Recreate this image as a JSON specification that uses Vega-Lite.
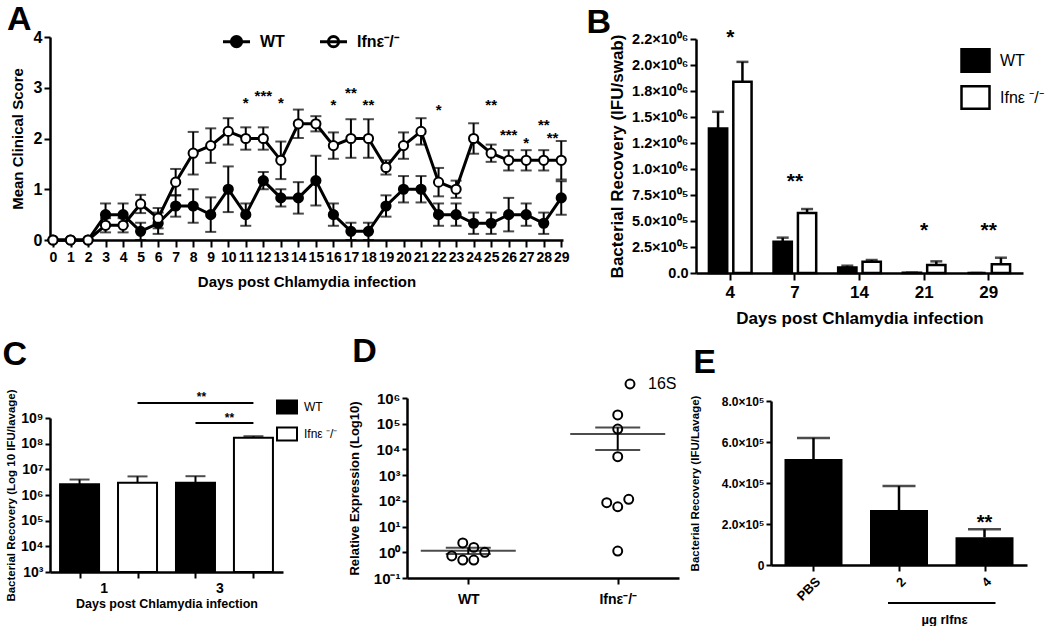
{
  "$schema": "https://vega.github.io/schema/vega-lite/v6.json",
  "background": "white",
  "padding": {"left": 2, "top": 3, "right": 2, "bottom": 0},
  "config": {
    "font": "Liberation Sans",
    "view": {"stroke": null},
    "axis": {"domainColor": "black", "tickColor": "black", "labelColor": "black", "titleColor": "black", "domainWidth": 2.5, "tickWidth": 2, "tickSize": 6, "grid": false, "labelFontWeight": "bold", "titleFontWeight": "bold", "labelFont": "Liberation Sans", "titleFont": "Liberation Sans"},
    "legend": {"labelColor": "black", "labelFont": "Liberation Sans"},
    "title": {"fontSize": 34, "fontWeight": "bold", "anchor": "start", "frame": "bounds", "color": "black", "offset": 2},
    "text": {"color": "black"}
  },
  "resolve": {"scale": {"fill": "independent", "stroke": "independent"}, "legend": {"fill": "independent", "stroke": "independent"}},
  "datasets": {
    "scores": [
      {"day": 0, "genotype": "WT", "mean": 0, "sem": 0},
      {"day": 1, "genotype": "WT", "mean": 0, "sem": 0},
      {"day": 2, "genotype": "WT", "mean": 0, "sem": 0},
      {"day": 3, "genotype": "WT", "mean": 0.5, "sem": 0.22},
      {"day": 4, "genotype": "WT", "mean": 0.5, "sem": 0.22},
      {"day": 5, "genotype": "WT", "mean": 0.17, "sem": 0.17},
      {"day": 6, "genotype": "WT", "mean": 0.33, "sem": 0.21},
      {"day": 7, "genotype": "WT", "mean": 0.67, "sem": 0.21},
      {"day": 8, "genotype": "WT", "mean": 0.67, "sem": 0.33},
      {"day": 9, "genotype": "WT", "mean": 0.5, "sem": 0.34},
      {"day": 10, "genotype": "WT", "mean": 1.0, "sem": 0.45},
      {"day": 11, "genotype": "WT", "mean": 0.5, "sem": 0.22},
      {"day": 12, "genotype": "WT", "mean": 1.17, "sem": 0.17},
      {"day": 13, "genotype": "WT", "mean": 0.83, "sem": 0.17},
      {"day": 14, "genotype": "WT", "mean": 0.83, "sem": 0.31},
      {"day": 15, "genotype": "WT", "mean": 1.17, "sem": 0.49},
      {"day": 16, "genotype": "WT", "mean": 0.5, "sem": 0.22},
      {"day": 17, "genotype": "WT", "mean": 0.17, "sem": 0.17},
      {"day": 18, "genotype": "WT", "mean": 0.17, "sem": 0.17},
      {"day": 19, "genotype": "WT", "mean": 0.67, "sem": 0.21},
      {"day": 20, "genotype": "WT", "mean": 1.0, "sem": 0.26},
      {"day": 21, "genotype": "WT", "mean": 1.0, "sem": 0.26},
      {"day": 22, "genotype": "WT", "mean": 0.5, "sem": 0.22},
      {"day": 23, "genotype": "WT", "mean": 0.5, "sem": 0.22},
      {"day": 24, "genotype": "WT", "mean": 0.33, "sem": 0.21},
      {"day": 25, "genotype": "WT", "mean": 0.33, "sem": 0.21},
      {"day": 26, "genotype": "WT", "mean": 0.5, "sem": 0.33},
      {"day": 27, "genotype": "WT", "mean": 0.5, "sem": 0.22},
      {"day": 28, "genotype": "WT", "mean": 0.33, "sem": 0.21},
      {"day": 29, "genotype": "WT", "mean": 0.83, "sem": 0.33},
      {"day": 0, "genotype": "Ifnε⁻/⁻", "mean": 0, "sem": 0},
      {"day": 1, "genotype": "Ifnε⁻/⁻", "mean": 0, "sem": 0},
      {"day": 2, "genotype": "Ifnε⁻/⁻", "mean": 0, "sem": 0},
      {"day": 3, "genotype": "Ifnε⁻/⁻", "mean": 0.29, "sem": 0.14},
      {"day": 4, "genotype": "Ifnε⁻/⁻", "mean": 0.29, "sem": 0.14},
      {"day": 5, "genotype": "Ifnε⁻/⁻", "mean": 0.71, "sem": 0.18},
      {"day": 6, "genotype": "Ifnε⁻/⁻", "mean": 0.43, "sem": 0.2},
      {"day": 7, "genotype": "Ifnε⁻/⁻", "mean": 1.14, "sem": 0.26},
      {"day": 8, "genotype": "Ifnε⁻/⁻", "mean": 1.71, "sem": 0.42},
      {"day": 9, "genotype": "Ifnε⁻/⁻", "mean": 1.86, "sem": 0.34},
      {"day": 10, "genotype": "Ifnε⁻/⁻", "mean": 2.14, "sem": 0.26},
      {"day": 11, "genotype": "Ifnε⁻/⁻", "mean": 2.0, "sem": 0.22},
      {"day": 12, "genotype": "Ifnε⁻/⁻", "mean": 2.0, "sem": 0.22},
      {"day": 13, "genotype": "Ifnε⁻/⁻", "mean": 1.57, "sem": 0.37},
      {"day": 14, "genotype": "Ifnε⁻/⁻", "mean": 2.29, "sem": 0.28},
      {"day": 15, "genotype": "Ifnε⁻/⁻", "mean": 2.29, "sem": 0.15},
      {"day": 16, "genotype": "Ifnε⁻/⁻", "mean": 1.86, "sem": 0.26},
      {"day": 17, "genotype": "Ifnε⁻/⁻", "mean": 2.0, "sem": 0.38},
      {"day": 18, "genotype": "Ifnε⁻/⁻", "mean": 2.0, "sem": 0.38},
      {"day": 19, "genotype": "Ifnε⁻/⁻", "mean": 1.43, "sem": 0.14},
      {"day": 20, "genotype": "Ifnε⁻/⁻", "mean": 1.86, "sem": 0.26},
      {"day": 21, "genotype": "Ifnε⁻/⁻", "mean": 2.14, "sem": 0.26},
      {"day": 22, "genotype": "Ifnε⁻/⁻", "mean": 1.14, "sem": 0.28},
      {"day": 23, "genotype": "Ifnε⁻/⁻", "mean": 1.0, "sem": 0.17},
      {"day": 24, "genotype": "Ifnε⁻/⁻", "mean": 2.0, "sem": 0.3},
      {"day": 25, "genotype": "Ifnε⁻/⁻", "mean": 1.71, "sem": 0.17},
      {"day": 26, "genotype": "Ifnε⁻/⁻", "mean": 1.57, "sem": 0.2},
      {"day": 27, "genotype": "Ifnε⁻/⁻", "mean": 1.57, "sem": 0.2},
      {"day": 28, "genotype": "Ifnε⁻/⁻", "mean": 1.57, "sem": 0.2},
      {"day": 29, "genotype": "Ifnε⁻/⁻", "mean": 1.57, "sem": 0.38}
    ],
    "scoreStars": [
      {"day": 11, "y": 2.78, "label": "*"},
      {"day": 12, "y": 2.92, "label": "***"},
      {"day": 13, "y": 2.78, "label": "*"},
      {"day": 16, "y": 2.74, "label": "*"},
      {"day": 17, "y": 2.97, "label": "**"},
      {"day": 18, "y": 2.74, "label": "**"},
      {"day": 22, "y": 2.65, "label": "*"},
      {"day": 25, "y": 2.74, "label": "**"},
      {"day": 26, "y": 2.15, "label": "***"},
      {"day": 27, "y": 1.99, "label": "*"},
      {"day": 28, "y": 2.35, "label": "**"},
      {"day": 28.5, "y": 2.09, "label": "**"}
    ],
    "bData": [
      {"day": "4", "genotype": "WT", "mean": 1390000, "top": 1550000},
      {"day": "4", "genotype": "Ifnε ⁻/⁻", "mean": 1840000, "top": 2030000},
      {"day": "7", "genotype": "WT", "mean": 300000, "top": 340000},
      {"day": "7", "genotype": "Ifnε ⁻/⁻", "mean": 577000, "top": 615000},
      {"day": "14", "genotype": "WT", "mean": 54000, "top": 70000},
      {"day": "14", "genotype": "Ifnε ⁻/⁻", "mean": 109000, "top": 125000},
      {"day": "21", "genotype": "WT", "mean": 3000, "top": 3000},
      {"day": "21", "genotype": "Ifnε ⁻/⁻", "mean": 77000, "top": 112000},
      {"day": "29", "genotype": "WT", "mean": 0, "top": 0},
      {"day": "29", "genotype": "Ifnε ⁻/⁻", "mean": 83000, "top": 147000}
    ],
    "bStars": [
      {"day": "4", "y": 2310000, "label": "*"},
      {"day": "7", "y": 920000, "label": "**"},
      {"day": "21", "y": 455000, "label": "*"},
      {"day": "29", "y": 455000, "label": "**"}
    ],
    "cData": [
      {"cond": "1 WT", "genotype": "WT", "mean": 2600000, "top": 4000000},
      {"cond": "1 Ifn", "genotype": "Ifnε ⁻/⁻", "mean": 3000000, "top": 5300000},
      {"cond": "3 WT", "genotype": "WT", "mean": 3000000, "top": 5400000},
      {"cond": "3 Ifn", "genotype": "Ifnε ⁻/⁻", "mean": 170000000, "top": 195000000}
    ],
    "cSig": [
      {"pair": "a", "cond": "1 Ifn", "y": 3800000000},
      {"pair": "a", "cond": "3 Ifn", "y": 3800000000},
      {"pair": "b", "cond": "3 WT", "y": 640000000},
      {"pair": "b", "cond": "3 Ifn", "y": 640000000}
    ],
    "cStars": [
      {"pair": "a", "cond": "3 WT", "y": 8600000000, "label": "**"},
      {"pair": "b", "cond": "3 Ifn", "y": 1300000000, "label": "**"}
    ],
    "dPoints": [
      {"genotype": "WT", "col": -1.5, "value": 0.72},
      {"genotype": "WT", "col": -0.5, "value": 2.3},
      {"genotype": "WT", "col": -0.5, "value": 0.5},
      {"genotype": "WT", "col": 0.5, "value": 1.55},
      {"genotype": "WT", "col": 0.5, "value": 0.5},
      {"genotype": "WT", "col": 1.5, "value": 1.0},
      {"genotype": "Ifnε⁻/⁻", "col": 0, "value": 220000},
      {"genotype": "Ifnε⁻/⁻", "col": 0, "value": 62000},
      {"genotype": "Ifnε⁻/⁻", "col": 0, "value": 5200},
      {"genotype": "Ifnε⁻/⁻", "col": -1, "value": 85},
      {"genotype": "Ifnε⁻/⁻", "col": 0, "value": 59},
      {"genotype": "Ifnε⁻/⁻", "col": 1, "value": 115},
      {"genotype": "Ifnε⁻/⁻", "col": 0, "value": 1.12}
    ],
    "dSummary": [
      {"genotype": "WT", "mean": 1.15, "lo": 0.85, "hi": 1.5},
      {"genotype": "Ifnε⁻/⁻", "mean": 40000, "lo": 9600, "hi": 72000}
    ],
    "eData": [
      {"treatment": "PBS", "mean": 517000, "top": 620000},
      {"treatment": "2", "mean": 268000, "top": 385000},
      {"treatment": "4", "mean": 135000, "top": 174000}
    ],
    "eStars": [
      {"treatment": "4", "y": 228000, "label": "**"}
    ],
    "eLine": [
      {"treatment": "2", "end": -1, "y": -185000},
      {"treatment": "4", "end": 1, "y": -185000}
    ]
  },
  "vconcat": [
    {
      "spacing": 16,
      "resolve": {"scale": {"fill": "independent", "stroke": "independent"}, "legend": {"fill": "independent", "stroke": "independent"}},
      "hconcat": [
        {
          "width": 513,
          "height": 203,
          "title": {"text": "A", "dx": -3, "offset": -11},
          "data": {"name": "scores"},
          "resolve": {"axis": {"y": "independent"}},
          "encoding": {
            "x": {"field": "day", "type": "quantitative", "scale": {"domain": [-0.17, 29.1], "nice": false, "zero": false},
              "axis": {"values": [0,1,2,3,4,5,6,7,8,9,10,11,12,13,14,15,16,17,18,19,20,21,22,23,24,25,26,27,28,29], "labelFontSize": 14, "labelOverlap": false, "labelFlush": false, "tickSize": 7, "labelPadding": 3, "title": "Days post Chlamydia infection", "titleFontSize": 15, "titlePadding": 10}}
          },
          "layer": [
            {"mark": {"type": "errorbar", "thickness": 2, "color": "black", "ticks": {"size": 11, "thickness": 2, "color": "black"}},
             "encoding": {"y": {"field": "mean", "type": "quantitative", "scale": {"domain": [0, 4]}, "axis": null}, "yError": {"field": "sem"}}},
            {"mark": {"type": "line", "strokeWidth": 3, "color": "black"},
             "encoding": {"y": {"field": "mean", "type": "quantitative", "axis": null}, "detail": {"field": "genotype"}}},
            {"mark": {"type": "point", "filled": true, "size": 85, "stroke": "black", "strokeWidth": 2, "opacity": 1},
             "encoding": {
               "y": {"field": "mean", "type": "quantitative",
                 "axis": {"values": [0, 1, 2, 3, 4], "labelFontSize": 16, "tickSize": 6, "title": "Mean Clinical Score", "titleFontSize": 15, "titlePadding": 8}},
               "fill": {"field": "genotype", "type": "nominal", "sort": ["WT", "Ifnε⁻/⁻"],
               "scale": {"domain": ["WT", "Ifnε⁻/⁻"], "range": ["black", "white"]},
               "legend": {"title": null, "orient": "none", "legendX": 171, "legendY": -11, "direction": "horizontal",
                 "symbolType": "M-1,0H1M-0.38,0A0.38,0.38,0,1,1,0.38,0A0.38,0.38,0,1,1,-0.38,0",
                 "symbolSize": 730, "symbolStrokeColor": "black", "symbolStrokeWidth": 3,
                 "labelFontSize": 16, "labelFontWeight": "bold", "columnPadding": 28, "labelOffset": 8}}}},
            {"data": {"name": "scoreStars"},
             "mark": {"type": "text", "fontSize": 15, "fontWeight": "bold", "baseline": "middle", "dy": 4},
             "encoding": {"y": {"field": "y", "type": "quantitative", "axis": null}, "text": {"field": "label"}}}
          ]
        },
        {
          "width": 327,
          "height": 236,
          "title": {"text": "B", "dx": -22, "offset": -13},
          "resolve": {"axis": {"y": "independent"}},
          "encoding": {
            "x": {"field": "day", "type": "nominal", "sort": ["4", "7", "14", "21", "29"],
              "scale": {"type": "band", "paddingInner": 0.34, "paddingOuter": 0.2},
              "axis": {"labelAngle": 0, "labelFontSize": 17, "tickSize": 7, "labelPadding": 4, "title": "Days post Chlamydia infection", "titleFontSize": 17, "titlePadding": 10}}
          },
          "layer": [
            {"data": {"name": "bData"},
             "mark": {"type": "bar", "stroke": "black", "strokeWidth": 2.5},
             "encoding": {
               "xOffset": {"field": "genotype", "sort": ["WT", "Ifnε ⁻/⁻"], "scale": {"paddingInner": 0.25}},
               "y": {"field": "mean", "type": "quantitative", "scale": {"domain": [0, 2250000], "range": [236, 2], "nice": false},
                 "axis": {"values": [0, 250000, 500000, 750000, 1000000, 1250000, 1500000, 1750000, 2000000, 2250000],
                   "labelExpr": "['0.0','2.5×10⁰⁵','5.0×10⁰⁵','7.5×10⁰⁵','1.0×10⁰⁶','1.2×10⁰⁶','1.5×10⁰⁶','1.8×10⁰⁶','2.0×10⁰⁶','2.2×10⁰⁶'][round(datum.value/250000)]",
                   "labelFontSize": 14.5, "tickSize": 6, "labelPadding": 2, "title": "Bacterial Recovery (IFU/swab)", "titleFontSize": 17, "titlePadding": 5}},
               "fill": {"field": "genotype", "type": "nominal", "sort": ["WT", "Ifnε ⁻/⁻"],
                 "scale": {"domain": ["WT", "Ifnε ⁻/⁻"], "range": ["black", "white"]},
                 "legend": {"title": null, "orient": "none", "legendX": 264, "legendY": 8,
                   "symbolType": "M-1,-0.8H1V0.8H-1Z", "symbolSize": 784, "symbolStrokeColor": "black", "symbolStrokeWidth": 2.5,
                   "labelFontSize": 16, "labelFontWeight": "normal", "rowPadding": 4, "labelOffset": 9}}
             }},
            {"data": {"name": "bData"},
             "mark": {"type": "rule", "strokeWidth": 2.5, "color": "black"},
             "encoding": {
               "xOffset": {"field": "genotype", "sort": ["WT", "Ifnε ⁻/⁻"], "scale": {"paddingInner": 0.25}},
               "y": {"field": "mean", "type": "quantitative", "axis": null}, "y2": {"field": "top"}}},
            {"data": {"name": "bData"},
             "mark": {"type": "tick", "orient": "horizontal", "size": 12, "thickness": 2.5, "color": "black"},
             "encoding": {
               "xOffset": {"field": "genotype", "sort": ["WT", "Ifnε ⁻/⁻"], "scale": {"paddingInner": 0.25}},
               "y": {"field": "top", "type": "quantitative", "axis": null}}},
            {"data": {"name": "bStars"},
             "mark": {"type": "text", "fontSize": 21, "fontWeight": "bold", "baseline": "middle", "dy": 5},
             "encoding": {"y": {"field": "y", "type": "quantitative", "axis": null}, "text": {"field": "label"}}}
          ]
        }
      ]
    },
    {
      "spacing": 10,
      "resolve": {"scale": {"fill": "independent", "stroke": "independent"}, "legend": {"fill": "independent", "stroke": "independent"}},
      "hconcat": [
        {
          "width": 233,
          "height": 174,
          "title": {"text": "C", "dx": -3, "offset": 17},
          "resolve": {"axis": {"y": "independent"}},
          "encoding": {
            "x": {"field": "cond", "type": "nominal", "sort": ["1 WT", "1 Ifn", "3 WT", "3 Ifn"],
              "scale": {"type": "point", "domain": ["1 WT", "1 Ifn", "3 WT", "3 Ifn"], "padding": 0.51},
              "axis": {"labelAngle": 0, "labelExpr": "datum.value == '1 WT' ? '1' : datum.value == '3 WT' ? '3' : ''", "labelOffset": 24, "labelFontSize": 14, "tickSize": 6, "labelPadding": 3, "title": "Days post Chlamydia infection", "titleFontSize": 12.5, "titlePadding": 2}}
          },
          "layer": [
            {"data": {"name": "cData"},
             "mark": {"type": "rule", "strokeWidth": 2, "color": "black"},
             "encoding": {"y": {"field": "mean", "type": "quantitative", "scale": {"type": "log", "domain": [1000, 1000000000], "range": [174, 20], "nice": false}, "axis": null}, "y2": {"field": "top"}}},
            {"data": {"name": "cData"},
             "mark": {"type": "tick", "orient": "horizontal", "size": 20, "thickness": 2, "color": "black"},
             "encoding": {"y": {"field": "top", "type": "quantitative", "axis": null}}},
            {"data": {"name": "cData"},
             "mark": {"type": "bar", "stroke": "black", "strokeWidth": 2, "width": 39},
             "encoding": {
               "y": {"field": "mean", "type": "quantitative",
                 "axis": {"values": [1000, 10000, 100000, 1000000, 10000000, 100000000, 1000000000],
                   "labelExpr": "'10' + ['³','⁴','⁵','⁶','⁷','⁸','⁹'][round(log(datum.value)/LN10)-3]",
                   "labelFontSize": 14, "tickSize": 5, "title": "Bacterial Recovery (Log 10 IFU/lavage)", "titleFontSize": 11.5, "titlePadding": 4}},
               "y2": {"datum": 1000},
               "fill": {"field": "genotype", "type": "nominal", "sort": ["WT", "Ifnε ⁻/⁻"],
                 "scale": {"domain": ["WT", "Ifnε ⁻/⁻"], "range": ["black", "white"]},
                 "legend": {"title": null, "orient": "none", "legendX": 226, "legendY": -2,
                   "symbolType": "M-1,-0.65H1V0.65H-1Z", "symbolSize": 400, "symbolStrokeColor": "black", "symbolStrokeWidth": 2,
                   "labelFontSize": 12, "labelFontWeight": "normal", "rowPadding": 5, "labelOffset": 6}}
             }},
            {"data": {"name": "cSig"},
             "mark": {"type": "line", "strokeWidth": 2, "color": "black"},
             "encoding": {"y": {"field": "y", "type": "quantitative", "axis": null}, "detail": {"field": "pair"}}},
            {"data": {"name": "cStars"},
             "transform": [{"filter": "datum.pair == 'a'"}],
             "mark": {"type": "text", "fontSize": 12, "fontWeight": "bold", "baseline": "middle", "dy": 3, "dx": 6},
             "encoding": {"y": {"field": "y", "type": "quantitative", "axis": null}, "text": {"field": "label"}}},
            {"data": {"name": "cStars"},
             "transform": [{"filter": "datum.pair == 'b'"}],
             "mark": {"type": "text", "fontSize": 12, "fontWeight": "bold", "baseline": "middle", "dy": 3, "dx": -24},
             "encoding": {"y": {"field": "y", "type": "quantitative", "axis": null}, "text": {"field": "label"}}}
          ]
        },
        {
          "width": 272,
          "height": 180,
          "title": {"text": "D", "dx": 4, "offset": 7},
          "resolve": {"axis": {"y": "independent"}},
          "encoding": {
            "x": {"field": "genotype", "type": "nominal", "sort": ["WT", "Ifnε⁻/⁻"],
              "scale": {"type": "point", "domain": ["WT", "Ifnε⁻/⁻"], "padding": 0.41},
              "axis": {"labelAngle": 0, "labelFontSize": 14, "tickSize": 6, "labelPadding": 8, "title": null}}
          },
          "layer": [
            {"data": {"name": "dSummary"},
             "mark": {"type": "rule", "strokeWidth": 2, "color": "black"},
             "encoding": {"y": {"field": "lo", "type": "quantitative",
               "scale": {"type": "log", "domain": [0.1, 1000000], "nice": false},
               "axis": {"values": [0.1, 1, 10, 100, 1000, 10000, 100000, 1000000],
                 "labelExpr": "'10' + ['⁻¹','⁰','¹','²','³','⁴','⁵','⁶'][round(log(datum.value)/LN10)+1]",
                 "labelFontSize": 15, "tickSize": 5, "title": "Relative Expression (Log10)", "titleFontSize": 13, "titlePadding": 12}},
               "y2": {"field": "hi"}}},
            {"data": {"name": "dSummary"},
             "mark": {"type": "tick", "orient": "horizontal", "size": 45, "thickness": 2, "color": "black"},
             "encoding": {"y": {"field": "lo", "type": "quantitative", "axis": null}}},
            {"data": {"name": "dSummary"},
             "mark": {"type": "tick", "orient": "horizontal", "size": 45, "thickness": 2, "color": "black"},
             "encoding": {"y": {"field": "hi", "type": "quantitative", "axis": null}}},
            {"data": {"name": "dSummary"},
             "mark": {"type": "tick", "orient": "horizontal", "size": 95, "thickness": 2, "color": "black"},
             "encoding": {"y": {"field": "mean", "type": "quantitative", "axis": null}}},
            {"data": {"name": "dPoints"},
             "mark": {"type": "point", "filled": false, "size": 80, "strokeWidth": 2, "opacity": 1, "fill": "white", "fillOpacity": 0},
             "encoding": {
               "xOffset": {"field": "col", "type": "quantitative", "scale": {"domain": [-3.3, 3.3], "range": [-36.3, 36.3]}},
               "y": {"field": "value", "type": "quantitative", "axis": null},
               "stroke": {"datum": "16S", "type": "nominal", "scale": {"range": ["black"]},
                 "legend": {"title": null, "orient": "none", "legendX": 215, "legendY": -22, "symbolType": "circle", "symbolSize": 80, "symbolStrokeWidth": 2, "labelFontSize": 16, "labelFontWeight": "normal", "labelOffset": 10}}}}
          ]
        },
        {
          "width": 256,
          "height": 167,
          "title": {"text": "E", "dx": 4, "offset": 15},
          "resolve": {"axis": {"y": "independent"}},
          "encoding": {
            "x": {"field": "treatment", "type": "nominal", "sort": ["PBS", "2", "4"],
              "scale": {"type": "point", "domain": ["PBS", "2", "4"], "padding": 0.497},
              "axis": {"labelAngle": -45, "labelFontSize": 13, "tickSize": 6, "labelPadding": 4, "title": "µg rIfnε", "titleFontSize": 13, "titleX": 173, "titleY": 48}}
          },
          "layer": [
            {"data": {"name": "eData"},
             "mark": {"type": "bar", "color": "black", "width": 58},
             "encoding": {"y": {"field": "mean", "type": "quantitative",
               "scale": {"domain": [0, 800000], "range": [167, 3], "nice": false},
               "axis": {"values": [0, 200000, 400000, 600000, 800000],
                 "labelExpr": "datum.value == 0 ? '0' : format(datum.value/100000, '.1f') + '×10⁵'",
                 "labelFontSize": 12, "tickSize": 5, "title": "Bacterial Recovery (IFU/Lavage)", "titleFontSize": 11.5, "titlePadding": 21}}}},
            {"data": {"name": "eData"},
             "mark": {"type": "rule", "strokeWidth": 2.5, "color": "black"},
             "encoding": {"y": {"field": "mean", "type": "quantitative", "axis": null}, "y2": {"field": "top"}}},
            {"data": {"name": "eData"},
             "mark": {"type": "tick", "orient": "horizontal", "size": 33, "thickness": 2.5, "color": "black"},
             "encoding": {"y": {"field": "top", "type": "quantitative", "axis": null}}},
            {"data": {"name": "eStars"},
             "mark": {"type": "text", "fontSize": 20, "fontWeight": "bold", "baseline": "middle", "dy": 5},
             "encoding": {"y": {"field": "y", "type": "quantitative", "axis": null}, "text": {"field": "label"}}},
            {"data": {"name": "eLine"},
             "mark": {"type": "line", "strokeWidth": 2, "color": "black"},
             "encoding": {"xOffset": {"field": "end", "type": "quantitative", "scale": {"domain": [-1, 1], "range": [-29, 29]}},
               "y": {"field": "y", "type": "quantitative", "axis": null}}}
          ]
        }
      ]
    }
  ],
  "spacing": 9
}
